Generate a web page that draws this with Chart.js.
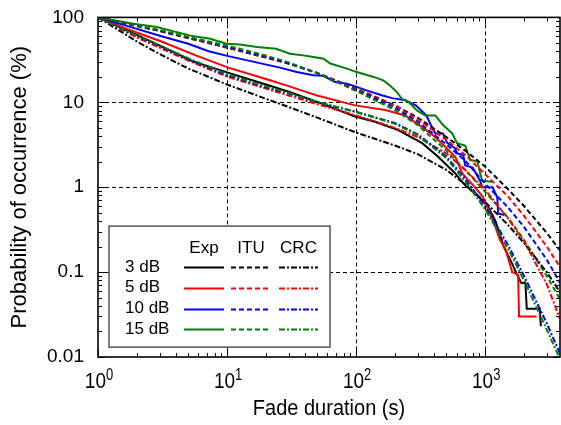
<!DOCTYPE html>
<html>
<head>
<meta charset="utf-8">
<script src="https://cdn.jsdelivr.net/npm/chart.js@4/dist/chart.umd.min.js"></script>
<style>
html,body{margin:0;padding:0;background:#fff;}
#wrap{width:561px;height:425px;position:relative;}
</style>
</head>
<body>
<div id="wrap"><canvas id="c" width="561" height="425"></canvas></div>
<script>
// ---------- DATA ----------
const xTickValues = [1, 10, 100, 1000];
const xTickExponents = ['0', '1', '2', '3'];
const yTickValues = [0.01, 0.1, 1, 10, 100];
const yTickLabels = ['0.01', '0.1', '1', '10', '100'];
const xTitle = 'Fade duration (s)';
const yTitle = 'Probability of occurrence (%)';
const thresholds = ['3 dB', '5 dB', '10 dB', '15 dB'];
const methods = ['Exp', 'ITU', 'CRC'];

// Measured (Exp) curves
const exp3X = [1, 1.7, 3.1, 5.6, 10, 20, 30, 50, 98, 140, 212, 325, 430, 585, 700, 850, 1037, 1200, 1390, 1600, 1750, 1900, 2050, 2100, 2650, 2700];
const exp3Y = [100, 70, 45.6, 29.8, 22.5, 16.2, 13.3, 10.1, 6.8, 5.9, 4.7, 3.3, 2.3, 1.46, 1.05, 0.82, 0.62, 0.4, 0.2, 0.13, 0.096, 0.075, 0.074, 0.037, 0.037, 0.023];
const exp5X = [1, 1.72, 3.1, 5.65, 10.2, 20, 30, 50, 98, 168, 240, 325, 410, 490, 585, 665, 830, 960, 1090, 1200, 1300, 1430, 1620, 1800, 1830, 2500];
const exp5Y = [100, 72, 52, 36, 25.6, 18.8, 15.5, 12, 9.2, 8.1, 7.0, 5.1, 3.9, 3.0, 2.3, 1.45, 1.0, 0.77, 0.49, 0.34, 0.24, 0.19, 0.1, 0.093, 0.03, 0.03];
const exp10X = [1, 1.7, 3.1, 5, 7.2, 10.2, 25.7, 34.6, 46.7, 55.8, 68.6, 84.7, 101, 117, 158, 190, 240, 290, 350, 375, 410, 470, 510, 580, 610, 675, 700, 800, 860, 910, 950, 1140, 1240, 1260, 1400];
const exp10Y = [100, 79, 60, 49, 40, 35, 25.6, 22.7, 20.8, 20.5, 17.3, 16.6, 15.2, 14, 12.1, 11.2, 10.6, 9.2, 7.0, 5.6, 4.3, 4.3, 3.3, 2.9, 2.5, 2.4, 1.8, 1.7, 1.4, 1.2, 1.0, 1.0, 0.76, 0.49, 0.47];
const exp15X = [1, 1.88, 2.85, 5.2, 7.4, 9.9, 12.6, 17, 24, 30.7, 38.9, 46.8, 56, 63, 85, 101, 137, 162, 183, 207, 226, 255, 296, 343, 410, 472, 555, 605, 700, 765, 870, 945, 1140];
const exp15Y = [100, 84, 77, 61, 56, 49, 48, 44.7, 42.8, 37.4, 35.7, 34.1, 32.6, 28.6, 24.9, 22.7, 19.9, 18.1, 15.8, 13.2, 11.0, 10.1, 8.0, 7.0, 7.0, 5.4, 4.3, 3.3, 3.1, 2.1, 2.0, 1.2, 1.15];

// Model curves share one duration grid
const modelX = [1, 2, 3, 5, 10, 20, 30, 50, 100, 200, 300, 500, 700, 1000, 1500, 2000, 3000, 3800];
const itu3 = [100, 79, 69, 57, 44, 33.6, 28.5, 22.1, 14.5, 9.2, 6.6, 3.9, 2.7, 1.75, 0.95, 0.6, 0.29, 0.18];
const itu5 = [100, 79.5, 69.5, 57.5, 44.5, 34, 29, 22.2, 14.4, 9.0, 6.3, 3.6, 2.4, 1.42, 0.78, 0.46, 0.2, 0.115];
const itu10 = [100, 80, 70, 58, 45.5, 34.5, 29, 22, 14, 8.6, 5.9, 3.2, 2.05, 1.1, 0.58, 0.34, 0.14, 0.075];
const itu15 = [100, 81, 71, 59, 46.5, 35.5, 29.5, 22, 13.6, 8.1, 5.4, 2.7, 1.6, 0.88, 0.44, 0.24, 0.09, 0.048];
const crc3 = [100, 52, 37, 25, 16.2, 11, 8.8, 6.6, 4.4, 3.1, 2.45, 1.6, 1.08, 0.67, 0.36, 0.22, 0.1, 0.058];
const crc5 = [100, 58, 44, 31, 20, 14.5, 12, 9.5, 7.0, 5.0, 3.9, 2.5, 1.6, 0.93, 0.43, 0.23, 0.072, 0.028];
const crc10 = [100, 60, 46, 32, 21, 15, 12.7, 10, 7.7, 5.7, 4.2, 2.3, 1.25, 0.6, 0.21, 0.09, 0.025, 0.011];
const crc15 = [100, 61, 47, 33, 21.5, 15.3, 12.9, 10.1, 7.7, 5.6, 4.1, 2.2, 1.18, 0.55, 0.19, 0.08, 0.021, 0.0095];

const colors = ['#000000', '#ff0000', '#0000ff', '#008000'];
// ---------- END DATA ----------

const FONT = '"Liberation Sans", Arial, Helvetica, sans-serif';
const DASH_ITU = [5, 3];
const DASH_CRC = [6, 2, 2, 2];

function pts(xs, ys) { return xs.map((x, i) => ({x: x, y: ys[i]})); }

const expSets = [[exp3X, exp3Y], [exp5X, exp5Y], [exp10X, exp10Y], [exp15X, exp15Y]];
const ituSets = [itu3, itu5, itu10, itu15];
const crcSets = [crc3, crc5, crc10, crc15];

const datasets = [];
expSets.forEach((s, i) => datasets.push({label: 'Exp ' + thresholds[i], data: pts(s[0], s[1]), borderColor: colors[i], borderWidth: 2, borderDash: []}));
ituSets.forEach((s, i) => datasets.push({label: 'ITU ' + thresholds[i], data: pts(modelX, s), borderColor: colors[i], borderWidth: 2, borderDash: DASH_ITU}));
crcSets.forEach((s, i) => datasets.push({label: 'CRC ' + thresholds[i], data: pts(modelX, s), borderColor: colors[i], borderWidth: 2, borderDash: DASH_CRC}));
datasets.forEach(d => { d.pointRadius = 0; d.fill = false; d.tension = 0; });
// measured curves drawn on top
datasets.reverse();

const decoPlugin = {
  id: 'deco',
  beforeDatasetsDraw(chart) {
    const ctx = chart.ctx, a = chart.chartArea, xs = chart.scales.x, ys = chart.scales.y;
    ctx.save();
    ctx.strokeStyle = '#000'; ctx.lineWidth = 1; ctx.setLineDash([4, 3]);
    xTickValues.forEach(v => {
      const px = Math.round(xs.getPixelForValue(v)) + 0.5;
      if (px <= a.left + 1 || px >= a.right - 1) return;
      ctx.beginPath(); ctx.moveTo(px, a.top); ctx.lineTo(px, a.bottom); ctx.stroke();
    });
    yTickValues.forEach(v => {
      const py = Math.round(ys.getPixelForValue(v)) + 0.5;
      if (py <= a.top + 1 || py >= a.bottom - 1) return;
      ctx.beginPath(); ctx.moveTo(a.left, py); ctx.lineTo(a.right, py); ctx.stroke();
    });
    ctx.restore();
  },
  afterDatasetsDraw(chart) {
    const ctx = chart.ctx, a = chart.chartArea, xs = chart.scales.x, ys = chart.scales.y;
    ctx.save();
    ctx.setLineDash([]);
    ctx.strokeStyle = '#000';
    ctx.lineWidth = 1;
    // inward ticks on all four sides
    for (let e = 0; e <= 3; e++) {
      for (let m = 1; m <= 9; m++) {
        const v = m * Math.pow(10, e);
        if (v < xs.min || v > xs.max) continue;
        const px = Math.round(xs.getPixelForValue(v)) + 0.5;
        const len = m === 1 ? 7 : 4;
        ctx.beginPath();
        ctx.moveTo(px, a.bottom); ctx.lineTo(px, a.bottom - len);
        ctx.moveTo(px, a.top); ctx.lineTo(px, a.top + len);
        ctx.stroke();
      }
    }
    for (let e = -2; e <= 2; e++) {
      for (let m = 1; m <= 9; m++) {
        const v = m * Math.pow(10, e);
        if (v < ys.min * 0.999 || v > ys.max * 1.001) continue;
        const py = Math.round(ys.getPixelForValue(v)) + 0.5;
        const len = m === 1 ? 7 : 4;
        ctx.beginPath();
        ctx.moveTo(a.left, py); ctx.lineTo(a.left + len, py);
        ctx.moveTo(a.right, py); ctx.lineTo(a.right - len, py);
        ctx.stroke();
      }
    }
    // frame
    ctx.lineWidth = 1.6;
    ctx.strokeRect(a.left, a.top, a.right - a.left, a.bottom - a.top);

    // x tick labels with superscript exponents
    ctx.fillStyle = '#000';
    ctx.textBaseline = 'alphabetic';
    xTickValues.forEach((v, i) => {
      const px = xs.getPixelForValue(v);
      ctx.font = '19px ' + FONT;
      const wBase = ctx.measureText('10').width;
      ctx.font = '13px ' + FONT;
      const wExp = ctx.measureText(xTickExponents[i]).width;
      const x0 = px - (wBase + wExp) / 2 + 1;
      ctx.save();
      ctx.translate(x0, a.bottom + 31);
      ctx.scale(1, 1.2);
      ctx.font = '19px ' + FONT;
      ctx.textAlign = 'left';
      ctx.fillText('10', 0, 0);
      ctx.font = '13px ' + FONT;
      ctx.fillText(xTickExponents[i], wBase, -7);
      ctx.restore();
    });
    // axis titles
    ctx.textAlign = 'center';
    ctx.textBaseline = 'middle';
    ctx.save();
    ctx.translate((a.left + a.right) / 2, 409);
    ctx.scale(1, 1.12);
    ctx.font = '20px ' + FONT;
    ctx.fillText(xTitle, 0, 0);
    ctx.restore();
    ctx.save();
    ctx.translate(20, (a.top + a.bottom) / 2);
    ctx.rotate(-Math.PI / 2);
    ctx.font = '22px ' + FONT;
    ctx.fillText(yTitle, 0, 0);
    ctx.restore();

    // legend box
    const bx = a.left + 11, by = ys.getPixelForValue(0.1) - 46;
    const bw = 221, bh = 121;
    ctx.fillStyle = '#fff';
    ctx.fillRect(bx, by, bw, bh);
    ctx.strokeStyle = '#555';
    ctx.lineWidth = 1.5;
    ctx.strokeRect(bx, by, bw, bh);
    ctx.fillStyle = '#000';
    ctx.font = '17px ' + FONT;
    ctx.textBaseline = 'middle';
    ctx.textAlign = 'center';
    const colX = [[75, 115], [122, 162], [170, 209]];
    methods.forEach((m, j) => ctx.fillText(m, bx + (colX[j][0] + colX[j][1]) / 2, by + 22));
    const dashes = [[], DASH_ITU, DASH_CRC];
    thresholds.forEach((t, i) => {
      const ry = by + 41 + i * 20.7;
      ctx.textAlign = 'left';
      ctx.fillStyle = '#000';
      ctx.fillText(t, bx + 16, ry);
      colX.forEach((c, j) => {
        ctx.strokeStyle = colors[i];
        ctx.lineWidth = 2;
        ctx.setLineDash(dashes[j]);
        ctx.beginPath();
        ctx.moveTo(bx + c[0], Math.round(ry) + 0.5);
        ctx.lineTo(bx + c[1], Math.round(ry) + 0.5);
        ctx.stroke();
      });
      ctx.setLineDash([]);
    });
    ctx.restore();
  }
};

new Chart(document.getElementById('c'), {
  type: 'line',
  data: {datasets: datasets},
  options: {
    responsive: false,
    animation: false,
    devicePixelRatio: 1,
    layout: {padding: {left: 0, top: 17, right: 1, bottom: 68}},
    plugins: {legend: {display: false}, tooltip: {enabled: false}},
    scales: {
      x: {
        type: 'logarithmic', min: 1, max: 3800, display: false
      },
      y: {
        type: 'logarithmic', min: 0.01, max: 100,
        grid: {display: false},
        border: {display: false},
        afterFit: s => { s.width = 98; },
        ticks: {
          autoSkip: false,
          padding: 6,
          color: '#000',
          font: {family: FONT, size: 19},
          callback: function (v) {
            const i = yTickValues.findIndex(t => Math.abs(t - v) / t < 1e-6);
            return i >= 0 ? yTickLabels[i] : null;
          }
        }
      }
    }
  },
  plugins: [decoPlugin]
});
</script>
</body>
</html>
